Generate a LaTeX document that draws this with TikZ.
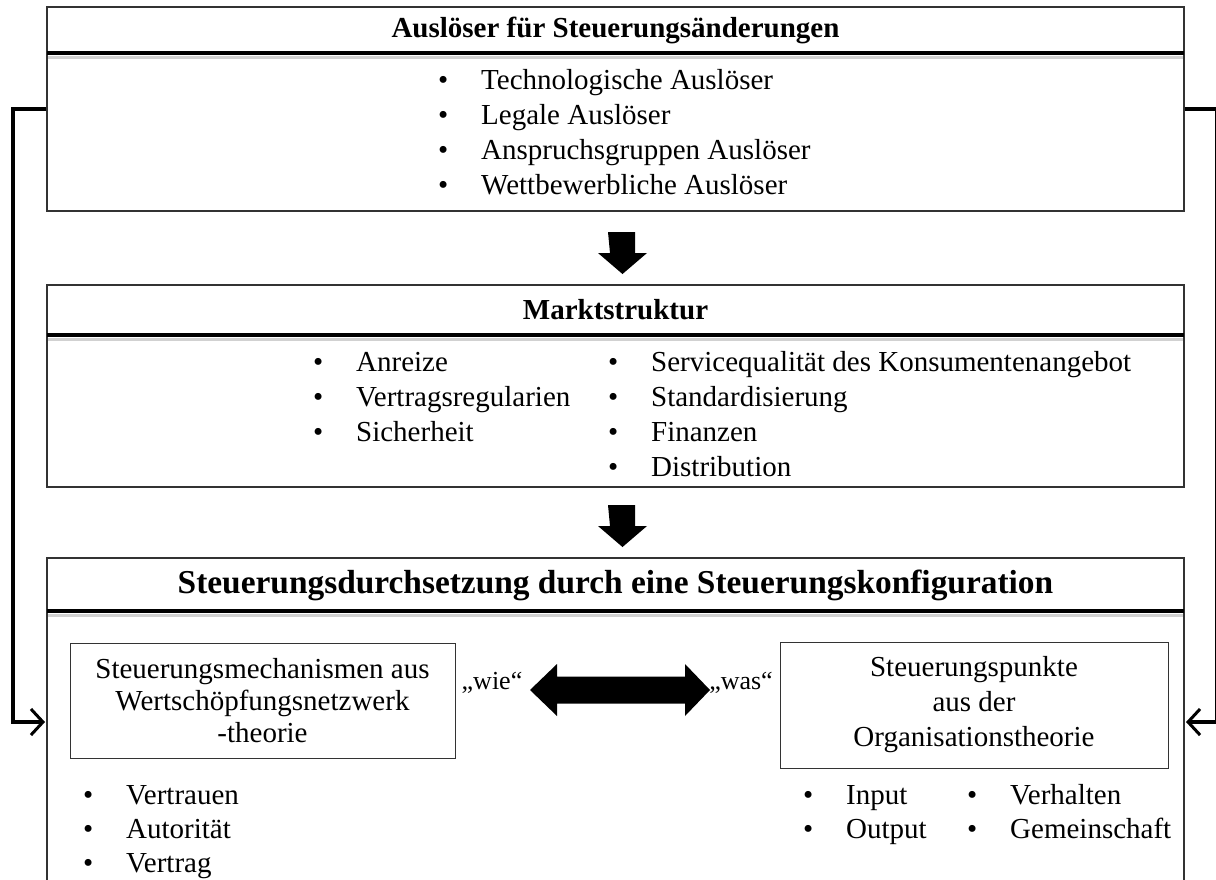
\documentclass[tikz,border=0pt]{standalone}
\usepackage{fontspec}
\setmainfont{Liberation Serif}
\usetikzlibrary{arrows.meta,positioning}

\newcommand{\bl}{\makebox[43pt][l]{\textbullet}}

\tikzset{
  frame/.style={draw=black!80, line width=1.2pt, minimum width=1137pt, inner sep=0pt},
  headline/.style={line width=4pt},
  headshade/.style={line width=3pt, black!18},
  headtext/.style={font=\fontsize{29}{34}\selectfont\bfseries},
  bigtext/.style={font=\fontsize{33.4}{40}\selectfont\bfseries},
  item/.style={font=\fontsize{29}{35}\selectfont, anchor=base west, inner sep=0pt},
  inbox/.style={draw=black!80, line width=1pt, inner sep=0pt, align=center},
  quote/.style={font=\fontsize{26}{30}\selectfont, inner sep=0pt},
  feedback/.style={line width=4pt, -{Straight Barb[length=12pt,width=26pt,line width=3pt]}},
}

\begin{document}
\begin{tikzpicture}[x=1pt, y=-1pt]
  \useasboundingbox (0,0) rectangle (1216,879);
  % --- Top box: triggers ---
  \node[frame, minimum height=204pt] (trig) at (615.5,109) {};
  \draw[headshade] (48,57) -- (1183,57);
  \draw[headline] (47,53) -- (1184,53);
  \node[headtext] (trigtitle) at (615.5,30) {Auslöser für Steuerungsänderungen};
  \foreach \txt [count=\i] in {Technologische Auslöser,Legale Auslöser,Anspruchsgruppen Auslöser,Wettbewerbliche Auslöser}
    \node[item] (trig\i) at (438,{89+35*(\i-1)}) {\bl\txt};
  % --- Middle box: market structure ---
  \node[frame, minimum height=202pt] (mkt) at (615.5,386) {};
  \draw[headshade] (48,339) -- (1183,339);
  \draw[headline] (47,335) -- (1184,335);
  \node[headtext] (mkttitle) at (615.5,310) {Marktstruktur};
  \foreach \txt [count=\i] in {Anreize,Vertragsregularien,Sicherheit}
    \node[item] (mktl\i) at (313,{371+35*(\i-1)}) {\bl\txt};
  \foreach \txt [count=\i] in {Servicequalität des Konsumentenangebot,Standardisierung,Finanzen,Distribution}
    \node[item] (mktr\i) at (608,{371+35*(\i-1)}) {\bl\txt};
  % block arrows between the boxes
  \foreach \y in {232,505}
    \fill (608,\y) -- ++(27,0) -- ++(0,21) -- ++(12,0) -- ++(-24.5,21) -- ++(-24.5,-21) -- ++(12,0) -- cycle;
  % --- Bottom box: configuration ---
  \node[frame, minimum height=342pt] (conf) at (615.5,729) {};
  \draw[headshade] (48,615) -- (1183,615);
  \draw[headline] (47,611) -- (1184,611);
  \node[bigtext] (conftitle) at (615.5,585) {Steuerungsdurchsetzung durch eine Steuerungskonfiguration};
  \node[inbox, minimum width=385pt, minimum height=115pt, font=\fontsize{29}{32}\selectfont] (mech) at (262.5,700.5)
    {Steuerungsmechanismen aus\\Wertschöpfungsnetzwerk\\-theorie};
  \node[inbox, minimum width=388pt, minimum height=126pt, font=\fontsize{29}{35}\selectfont] (points) at (974,705)
    {Steuerungspunkte\\aus der\\Organisationstheorie};
  \node[quote] (wie) at (492,683) {„wie“};
  \node[quote] (was) at (741,683) {„was“};
  \fill (530,690) -- (557,664) -- (557,676.5) -- (685,676.5) -- (685,664) -- (710,690)
    -- (685,716) -- (685,703.5) -- (557,703.5) -- (557,716) -- cycle;
  \foreach \txt [count=\i] in {Vertrauen,Autorität,Vertrag}
    \node[item] (mechl\i) at (83,{804+34*(\i-1)}) {\bl\txt};
  \node[item] (pt1) at (803,804) {\bl Input};
  \node[item] (pt2) at (803,838) {\bl Output};
  \node[item] (pt3) at (967,804) {\bl Verhalten};
  \node[item] (pt4) at (967,838) {\bl Gemeinschaft};
  % --- feedback lines ---
  \coordinate (inL) at (45,722);
  \coordinate (inR) at (1186,722);
  \draw[feedback] (trig.west) -- (13,109) |- (inL);
  \draw[feedback] (trig.east) -- (1217,109) |- (inR);
\end{tikzpicture}
\end{document}
